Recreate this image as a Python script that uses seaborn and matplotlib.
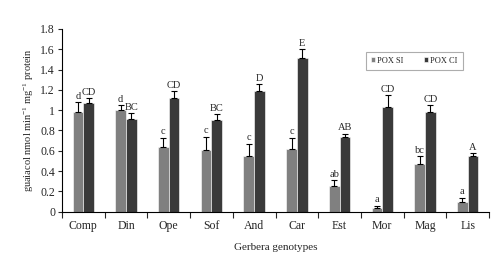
import matplotlib
matplotlib.use("Agg")
import matplotlib.pyplot as plt
import numpy as np
import pandas as pd
import seaborn as sns
from matplotlib.ticker import FixedLocator, MultipleLocator

genotypes = ["Comp", "Din", "Ope", "Sof", "And", "Car", "Est", "Mor", "Mag", "Lis"]
pox_si = [0.98, 1.00, 0.64, 0.61, 0.55, 0.62, 0.25, 0.04, 0.47, 0.10]
pox_si_err = [0.10, 0.05, 0.09, 0.13, 0.12, 0.11, 0.06, 0.02, 0.08, 0.04]
pox_ci = [1.07, 0.91, 1.12, 0.90, 1.19, 1.51, 0.74, 1.03, 0.98, 0.55]
pox_ci_err = [0.05, 0.06, 0.07, 0.06, 0.07, 0.09, 0.03, 0.12, 0.07, 0.03]
si_letters = ["d", "d", "c", "c", "c", "c", "ab", "a", "bc", "a"]
ci_letters = ["CD", "BC", "CD", "BC", "D", "E", "AB", "CD", "CD", "A"]

sns.set_theme(style="ticks")
plt.rcParams.update({
    "font.family": ["Liberation Serif", "DejaVu Serif"],
    "mathtext.fontset": "custom",
    "mathtext.rm": "Liberation Serif",
    "mathtext.it": "Liberation Serif:italic",
    "axes.edgecolor": "black",
    "axes.linewidth": 0.8,
})

df = pd.DataFrame({
    "genotype": genotypes * 2,
    "series": ["POX SI"] * len(genotypes) + ["POX CI"] * len(genotypes),
    "value": pox_si + pox_ci,
})

fig = plt.figure(figsize=(5.0, 2.65), dpi=100)
ax = fig.add_axes([0.124, 0.201, 0.854, 0.69])

sns.barplot(data=df, x="genotype", y="value", hue="series",
            palette=["#808080", "#3a3a3a"], width=0.5, errorbar=None,
            edgecolor="white", linewidth=0.4, ax=ax)

series_vals = [(pox_si, pox_si_err, si_letters), (pox_ci, pox_ci_err, ci_letters)]
for container, (vals, errs, letters) in zip(ax.containers, series_vals):
    xs = [p.get_x() + p.get_width() / 2 for p in container.patches]
    ax.errorbar(xs, vals, yerr=[np.zeros(len(errs)), errs], fmt="none",
                ecolor="black", elinewidth=0.8, capsize=2.2, capthick=0.8)
    for x, v, e, t in zip(xs, vals, errs, letters):
        ax.text(x, v + e + 0.012, t, ha="center", va="bottom", fontsize=7.5)

ax.set_xlim(-0.5, len(genotypes) - 0.5)
ax.set_ylim(0, 1.8)
ax.yaxis.set_major_locator(MultipleLocator(0.2))
ax.set_yticklabels(["0" if abs(t) < 1e-9 else f"{t:g}" for t in ax.get_yticks()])
ax.xaxis.set_minor_locator(FixedLocator(np.arange(-0.5, len(genotypes), 1.0)))
ax.tick_params(axis="x", which="major", length=0, labelsize=8.5, pad=6)
ax.tick_params(axis="x", which="minor", length=4, width=0.8, direction="out")
ax.tick_params(axis="y", length=3, width=0.8, direction="out", labelsize=8.5, pad=2)

ax.set_xlabel("Gerbera genotypes", fontsize=8, labelpad=8)
ax.set_ylabel("guaiacol nmol min$^{-1}$ mg$^{-1}$ protein", fontsize=7.5, labelpad=3)
sns.despine(ax=ax)

leg = ax.legend(loc="upper left", bbox_to_anchor=(0.711, 0.875), ncol=2,
                fontsize=6, frameon=True, fancybox=False, handlelength=0.5,
                handleheight=0.5, handletextpad=0.3, columnspacing=2.4,
                borderpad=0.6, borderaxespad=0)
leg.get_frame().set_edgecolor("#999999")
leg.get_frame().set_linewidth(0.8)
leg.set_title(None)

fig.savefig("out.png", dpi=100, facecolor="white")
